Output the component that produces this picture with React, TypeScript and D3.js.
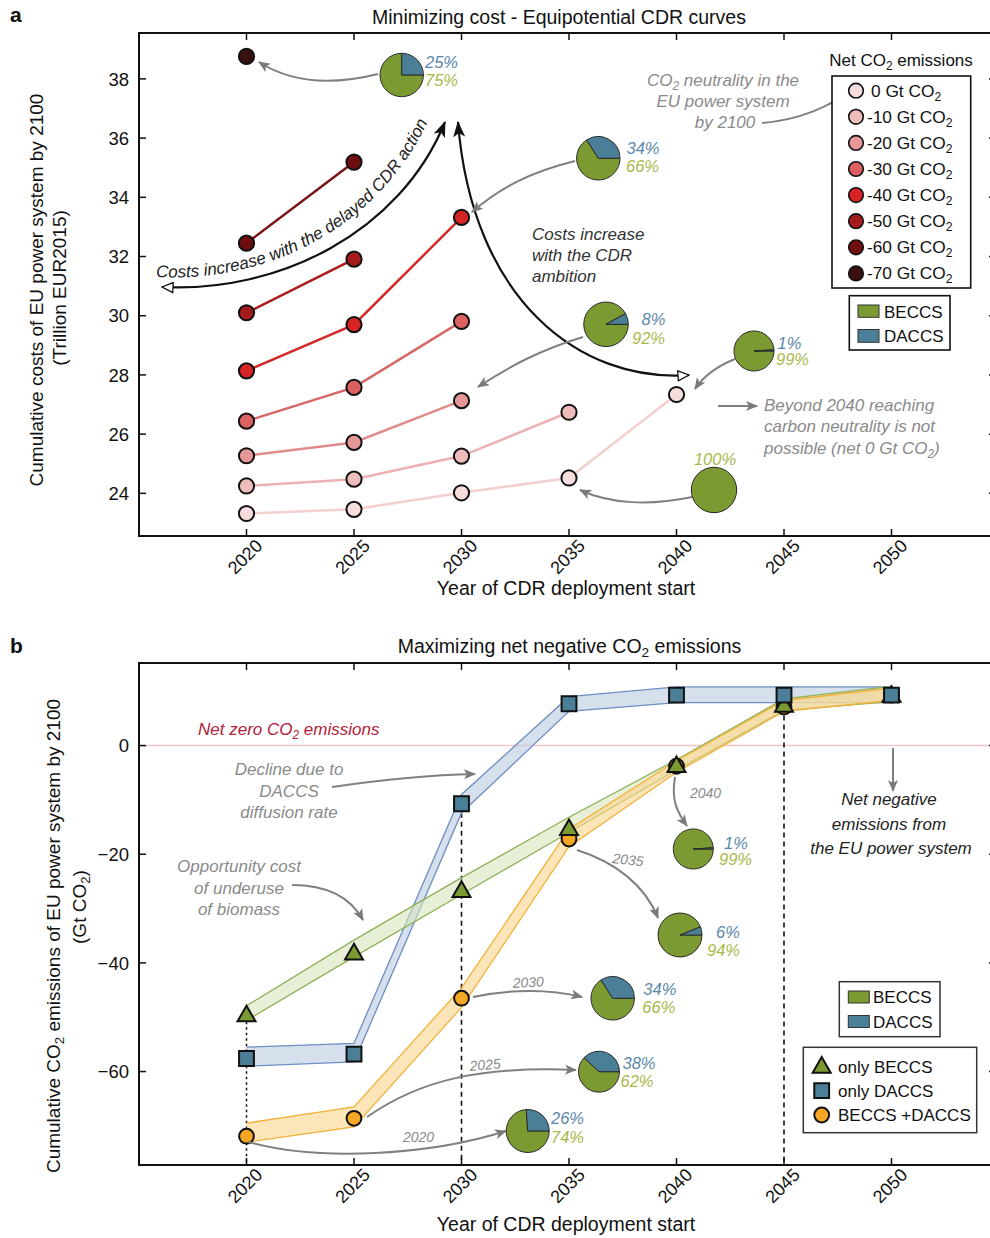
import React from "react";
import * as d3 from "d3";

// ---------------- DATA ----------------
const years = [2020, 2025, 2030, 2035, 2040, 2045, 2050];
const emissionLevels = [0, -10, -20, -30, -40, -50, -60, -70];

// Panel a: cumulative cost (trillion EUR2015) per CDR start year
const cost0Gt = [23.32, 23.46, 24.02, 24.52, 27.34];
const cost10Gt = [24.25, 24.48, 25.26, 26.74];
const cost20Gt = [25.27, 25.72, 27.13];
const cost30Gt = [26.44, 27.58, 29.81];
const cost40Gt = [28.14, 29.7, 33.32];
const cost50Gt = [30.1, 31.91];
const cost60Gt = [32.45, 35.19];
const cost70Gt = [38.76];
const costSeries = [cost0Gt, cost10Gt, cost20Gt, cost30Gt, cost40Gt, cost50Gt, cost60Gt, cost70Gt];

const costTicks = [24, 26, 28, 30, 32, 34, 36, 38];
const emissionTicks = [-60, -40, -20, 0];

// Panel b: cumulative CO2 emissions (Gt CO2)
const onlyBeccs = [-49.8, -38.4, -26.9, -15.5, -3.9, 7.2, 9.0];
const onlyBeccsHigh = [-47.9, -35.8, -24.3, -13.2, -2.6, 8.6, 10.9];
const onlyBeccsLow = [-50.6, -38.9, -27.4, -16.0, -4.5, 6.5, 8.1];
const onlyDaccs = [-57.6, -56.8, -10.7, 7.7, 9.3, 9.3, 9.3];
const onlyDaccsHigh = [-55.5, -54.8, -9.0, 9.0, 10.8, 10.8, 10.8];
const onlyDaccsLow = [-59.0, -58.2, -12.4, 6.3, 7.9, 7.9, 7.9];
const beccsDaccs = [-71.9, -68.6, -46.5, -17.2, -3.8, 7.1, 9.3];
const beccsDaccsHigh = [-69.5, -66.5, -44.6, -15.4, -2.8, 8.3, 10.6];
const beccsDaccsLow = [-73.0, -70.2, -48.2, -18.6, -4.9, 6.3, 8.3];

// Pie charts: DACCS share (%) - BECCS is the rest
const pieDaccsShareA = [25, 34, 8, 1, 0];
const pieDaccsShareB = [26, 38, 34, 6, 1];
const pieYearsB = [2020, 2025, 2030, 2035, 2040];

// ---------------- STYLE ----------------
const FONT = "'Liberation Sans', Arial, Helvetica, sans-serif";
const pointColors = ["#f6dcdc", "#efbcbc", "#e69898", "#dc6262", "#d62424", "#a51a1a", "#6f0e0e", "#3a0f0f"];
const lineColors = ["#f4cfcf", "#ecb2b2", "#e08c8c", "#d66868", "#d22a2a", "#ad1c1c", "#7a1212", "#3a0f0f"];
const GREEN = "#7b9b32";
const BLUE = "#4b7f98";
const ORANGE = "#f5a623";
const GRAY = "#808080";
const TXT_GRAY = "#8a8a8a";
const PCT_BLUE = "#5b88aa";
const PCT_GREEN = "#a9b84c";
const ANN = 17; // annotation font size
const LAB = 19.5; // titles / axis labels

const xA = d3.scaleLinear().domain([2015, 2055]).range([139, 999]);
const yA = d3.scaleLinear().domain([22.56, 39.55]).range([536, 33]);
const xB = d3.scaleLinear().domain([2015, 2055]).range([139, 999]);
const yB = d3.scaleLinear().domain([-77.2, 15.2]).range([1165, 663]);

const pieGen = d3
  .pie<number>()
  .sort(null)
  .startAngle(Math.PI / 2)
  .endAngle(Math.PI / 2 + 2 * Math.PI);

function Pie({ cx, cy, r, daccs }: { cx: number; cy: number; r: number; daccs: number }) {
  const arcs = pieGen([100 - daccs, daccs]);
  const arc = d3.arc<d3.PieArcDatum<number>>().innerRadius(0).outerRadius(r);
  return (
    <g transform={`translate(${cx},${cy})`}>
      {arcs.map((a, i) =>
        a.value > 0 ? (
          <path key={i} d={arc(a) || ""} fill={i === 0 ? GREEN : BLUE} stroke="#2a2a2a" strokeWidth={1} />
        ) : null
      )}
    </g>
  );
}

function CO2({ rest = "" }: { rest?: string }) {
  return (
    <>
      <tspan>CO</tspan>
      <tspan dy={4} fontSize="0.7em">
        2
      </tspan>
      <tspan dy={-4}>{rest}</tspan>
    </>
  );
}

function Axes({ x, y, top, bottom, ticks, fmt }: any) {
  const left = 139;
  return (
    <g>
      <line x1={left} x2={990} y1={top} y2={top} stroke="#111" strokeWidth={2} />
      <line x1={left} x2={990} y1={bottom} y2={bottom} stroke="#111" strokeWidth={2} />
      <line x1={left} x2={left} y1={top - 1} y2={bottom + 1} stroke="#111" strokeWidth={2} />
      {years.map((yr) => (
        <g key={yr}>
          <line x1={x(yr)} x2={x(yr)} y1={top} y2={top + 7} stroke="#111" strokeWidth={1.5} />
          <line x1={x(yr)} x2={x(yr)} y1={bottom} y2={bottom - 7} stroke="#111" strokeWidth={1.5} />
          <text
            transform={`translate(${x(yr) + 17},${bottom + 11}) rotate(-45)`}
            textAnchor="end"
            fontSize={18}
            fill="#111"
          >
            {yr}
          </text>
        </g>
      ))}
      {ticks.map((t: number) => (
        <g key={t}>
          <line x1={left} x2={left + 7} y1={y(t)} y2={y(t)} stroke="#111" strokeWidth={1.5} />
          <line x1={989} x2={996} y1={y(t)} y2={y(t)} stroke="#111" strokeWidth={1.5} />
          <text x={129} y={y(t)} dy="0.36em" textAnchor="end" fontSize={18.5} fill="#111">
            {fmt(t)}
          </text>
        </g>
      ))}
    </g>
  );
}

export default function App() {
  const lineA = d3
    .line<number>()
    .x((_, i) => xA(years[i]))
    .y((d) => yA(d));

  const band = (hi: number[], lo: number[]) =>
    d3
      .area<number>()
      .x((_, i) => xB(years[i]))
      .y0((_, i) => yB(lo[i]))
      .y1((_, i) => yB(hi[i]))(hi) || "";
  const lineB = d3
    .line<number>()
    .x((_, i) => xB(years[i]))
    .y((d) => yB(d));

  const tri = d3.symbol().type(d3.symbolTriangle).size(140)() || "";
  const sq = d3.symbol().type(d3.symbolSquare).size(220)() || "";

  const bands = [
    { hi: onlyDaccsHigh, lo: onlyDaccsLow, fill: "#b9cbe0", stroke: "#6d8fc2" },
    { hi: onlyBeccsHigh, lo: onlyBeccsLow, fill: "#d8e4bd", stroke: "#8db158" },
    { hi: beccsDaccsHigh, lo: beccsDaccsLow, fill: "#fcd48c", stroke: "#f2b13a" },
  ];

  // positions of pies (layout)
  const piesA = [
    { cx: 401.7, cy: 75, r: 21.7, lx: 425, ly1: 68, ly2: 86, l2x: 425 },
    { cx: 598.3, cy: 158.3, r: 21.7, lx: 626.5, ly1: 153.5, ly2: 171.5, l2x: 626 },
    { cx: 606, cy: 324.3, r: 22.3, lx: 641.5, ly1: 325, ly2: 343.5, l2x: 632 },
    { cx: 754, cy: 351, r: 20, lx: 777.5, ly1: 348.5, ly2: 365, l2x: 776 },
  ];
  const piesB = [
    { cx: 527.7, cy: 1131, r: 21.5, lx: 551, ly1: 1124, ly2: 1142.5, l2x: 551 },
    { cx: 599, cy: 1071.7, r: 20.5, lx: 622.5, ly1: 1068.5, ly2: 1087, l2x: 620.5 },
    { cx: 612.7, cy: 998.3, r: 21.7, lx: 643.3, ly1: 995, ly2: 1013, l2x: 642.3 },
    { cx: 680, cy: 935, r: 22, lx: 716, ly1: 937.5, ly2: 956, l2x: 707 },
    { cx: 693.3, cy: 849, r: 20, lx: 724, ly1: 848.5, ly2: 865, l2x: 719 },
  ];
  const yearLabelsB = [
    { x: 403, y: 1142, rot: 0 },
    { x: 470, y: 1071, rot: -5 },
    { x: 513, y: 988, rot: -3 },
    { x: 612, y: 863, rot: 6 },
    { x: 690, y: 798, rot: 0 },
  ];
  const arrowsB = [
    "M248,1142 C320,1162 430,1155 506,1131",
    "M367,1117 C420,1080 480,1066 576,1070",
    "M473,997 C510,989 550,989 582,997",
    "M577,850 C615,862 645,885 658,918",
    "M675,777 C671,800 677,812 687,826",
  ];

  const legendRowsA = emissionLevels.map((_, i) => 90.7 + i * 26.1);

  return (
    <svg
      width={990}
      height={1238}
      viewBox="0 0 990 1238"
      style={{ position: "absolute", left: 0, top: 0, background: "#fff" }}
      fontFamily={FONT}
    >
      <defs>
        <marker id="grayHead" viewBox="0 0 12 10" refX="11" refY="5" markerWidth="12" markerHeight="10" markerUnits="userSpaceOnUse" orient="auto">
          <path d="M0,0 L12,5 L0,10 L3,5 z" fill="#7a7a7a" />
        </marker>
        <marker id="blackHead" viewBox="0 0 16 12" refX="15" refY="6" markerWidth="16" markerHeight="12" markerUnits="userSpaceOnUse" orient="auto">
          <path d="M0,0 L16,6 L0,12 L4,6 z" fill="#111" />
        </marker>
        <marker id="openTail" viewBox="0 0 13 12" refX="12" refY="6" markerWidth="13" markerHeight="12" markerUnits="userSpaceOnUse" orient="auto-start-reverse">
          <path d="M1,1 L12,6 L1,11 z" fill="#fff" stroke="#111" strokeWidth={1.3} />
        </marker>
        <path id="delayPath" d="M156,277 C268,283 380,228 430,117" fill="none" />
      </defs>
      <rect x={0} y={0} width={990} height={1238} fill="#fff" />

      {/* ================= PANEL A ================= */}
      <text x={10} y={22} fontSize={21} fontWeight="bold" fill="#111">a</text>
      <text x={559} y={24} fontSize={LAB} textAnchor="middle" fill="#111">
        Minimizing cost - Equipotential CDR curves
      </text>
      <Axes x={xA} y={yA} top={33} bottom={536} ticks={costTicks} fmt={(t: number) => String(t)} />
      <text transform="translate(43,290) rotate(-90)" textAnchor="middle" fontSize={19} fill="#111">
        Cumulative costs of EU power system by 2100
      </text>
      <text transform="translate(66,288) rotate(-90)" textAnchor="middle" fontSize={19} fill="#111">
        (Trillion EUR2015)
      </text>
      <text x={566} y={595} textAnchor="middle" fontSize={LAB} fill="#111">
        Year of CDR deployment start
      </text>

      {/* series lines */}
      {costSeries.map((s, i) =>
        s.length > 1 ? (
          <path key={i} d={lineA(s) || ""} fill="none" stroke={lineColors[i]} strokeWidth={2.5} />
        ) : null
      )}
      {costSeries.map((s, i) =>
        s.map((v, j) => (
          <circle key={`${i}-${j}`} cx={xA(years[j])} cy={yA(v)} r={7.6} fill={pointColors[i]} stroke="#111" strokeWidth={2} />
        ))
      )}

      {/* black curved arrows */}
      <path d="M162,287 C280,293 400,232 445,122" fill="none" stroke="#111" strokeWidth={2.2} markerEnd="url(#blackHead)" markerStart="url(#openTail)" />
      <text fontSize={ANN} fontStyle="italic" fill="#222">
        <textPath href="#delayPath" startOffset="0">
          Costs increase with the delayed CDR action
        </textPath>
      </text>
      <path d="M689,375 C580,383 472,300 458,122" fill="none" stroke="#111" strokeWidth={2.2} markerEnd="url(#blackHead)" markerStart="url(#openTail)" />
      <text fontSize={ANN} fontStyle="italic" fill="#333">
        <tspan x={532} y={239.5}>Costs increase</tspan>
        <tspan x={532} y={260.7}>with the CDR</tspan>
        <tspan x={532} y={281.7}>ambition</tspan>
      </text>

      {/* gray arrows */}
      <g fill="none" stroke={GRAY} strokeWidth={2}>
        <path d="M378,74 C330,86 290,82 259,62" markerEnd="url(#grayHead)" />
        <path d="M575,161 C530,172 500,188 472,212" markerEnd="url(#grayHead)" />
        <path d="M583,337 C540,350 510,366 478,387" markerEnd="url(#grayHead)" />
        <path d="M735,359 C715,367 703,377 695,389" markerEnd="url(#grayHead)" />
        <path d="M692,497 C650,506 610,504 580,490" markerEnd="url(#grayHead)" />
        <path d="M762,123 C800,120 830,106 848,92" markerEnd="url(#grayHead)" />
        <path d="M718,406 L757,406" markerEnd="url(#grayHead)" />
      </g>

      {/* pies a */}
      {piesA.map((p, i) => (
        <g key={i}>
          <Pie cx={p.cx} cy={p.cy} r={p.r} daccs={pieDaccsShareA[i]} />
          <text x={p.lx} y={p.ly1} fontSize={16.5} fontStyle="italic" fill={PCT_BLUE}>{pieDaccsShareA[i]}%</text>
          <text x={p.l2x} y={p.ly2} fontSize={16.5} fontStyle="italic" fill={PCT_GREEN}>{100 - pieDaccsShareA[i]}%</text>
        </g>
      ))}
      <Pie cx={714} cy={490} r={22.7} daccs={pieDaccsShareA[4]} />
      <text x={715} y={464.5} textAnchor="middle" fontSize={16.5} fontStyle="italic" fill={PCT_GREEN}>
        {100 - pieDaccsShareA[4]}%
      </text>

      {/* text annotations a */}
      <text fontSize={ANN} fontStyle="italic" fill={TXT_GRAY} textAnchor="middle">
        <tspan x={723} y={86}>
          <CO2 rest=" neutrality in the" />
        </tspan>
        <tspan x={723} y={107}>EU power system</tspan>
        <tspan x={725} y={128}>by 2100</tspan>
      </text>
      <text fontSize={ANN} fontStyle="italic" fill={TXT_GRAY}>
        <tspan x={764} y={411}>Beyond 2040 reaching</tspan>
        <tspan x={764} y={432}>carbon neutrality is not</tspan>
        <tspan x={764} y={453.5}>
          possible (net 0 Gt <CO2 rest=")" />
        </tspan>
      </text>

      {/* legend a */}
      <text x={901} y={66} textAnchor="middle" fontSize={ANN} fill="#111">
        Net <CO2 rest=" emissions" />
      </text>
      <rect x={832} y={76} width={138.7} height={212} fill="#fff" stroke="#111" strokeWidth={1.6} />
      {emissionLevels.map((lv, i) => (
        <g key={lv}>
          <circle cx={856} cy={legendRowsA[i]} r={7.3} fill={pointColors[i]} stroke="#111" strokeWidth={1.6} />
          <text x={lv === 0 ? 871 : 867} y={legendRowsA[i] + 6} fontSize={17.3} fill="#111">
            {lv} Gt <CO2 />
          </text>
        </g>
      ))}
      <rect x={849.3} y={295.7} width={100.7} height={54.3} fill="#fff" stroke="#111" strokeWidth={1.6} />
      <rect x={858} y={305} width={21} height={12.3} fill={GREEN} stroke="#333" strokeWidth={1} />
      <rect x={858} y={329.5} width={21} height={12.8} fill={BLUE} stroke="#333" strokeWidth={1} />
      <text x={884} y={317.5} fontSize={17} fill="#111">BECCS</text>
      <text x={884} y={342.3} fontSize={17} fill="#111">DACCS</text>

      {/* ================= PANEL B ================= */}
      <text x={10} y={653} fontSize={21} fontWeight="bold" fill="#111">b</text>
      <text x={569.5} y={653.3} fontSize={LAB} textAnchor="middle" fill="#111">
        Maximizing net negative <CO2 rest=" emissions" />
      </text>
      <line x1={139} x2={990} y1={yB(0)} y2={yB(0)} stroke="#f3c4c8" strokeWidth={1.5} />
      <Axes x={xB} y={yB} top={663} bottom={1165} ticks={emissionTicks} fmt={(t: number) => (t < 0 ? "\u2212" + Math.abs(t) : String(t))} />
      <text transform="translate(60,936) rotate(-90)" textAnchor="middle" fontSize={19} fill="#111">
        Cumulative <CO2 rest=" emissions of EU power system by 2100" />
      </text>
      <text transform="translate(86,907) rotate(-90)" textAnchor="middle" fontSize={19} fill="#111">
        (Gt <CO2 rest=")" />
      </text>
      <text x={566} y={1231} textAnchor="middle" fontSize={LAB} fill="#111">
        Year of CDR deployment start
      </text>

      {/* dashed guides */}
      <line x1={xB(years[0])} x2={xB(years[0])} y1={yB(onlyBeccs[0])} y2={1165} stroke="#111" strokeWidth={1.5} strokeDasharray="2.5,3" />
      <line x1={xB(years[2])} x2={xB(years[2])} y1={yB(onlyDaccs[2])} y2={1165} stroke="#111" strokeWidth={1.6} strokeDasharray="5,4" />
      <line x1={xB(years[5])} x2={xB(years[5])} y1={yB(onlyBeccs[5])} y2={1165} stroke="#111" strokeWidth={1.6} strokeDasharray="5,4" />

      {/* bands */}
      {bands.map((b, i) => (
        <g key={i}>
          <path d={band(b.hi, b.lo)} fill={b.fill} fillOpacity={0.6} />
          <path d={lineB(b.hi) || ""} fill="none" stroke={b.stroke} strokeWidth={1.3} />
          <path d={lineB(b.lo) || ""} fill="none" stroke={b.stroke} strokeWidth={1.3} />
        </g>
      ))}

      {/* markers */}
      {beccsDaccs.map((v, i) => (
        <circle key={`c${i}`} cx={xB(years[i])} cy={yB(v)} r={7.4} fill={ORANGE} stroke="#111" strokeWidth={2} />
      ))}
      {onlyBeccs.map((v, i) => (
        <path key={`t${i}`} d={tri} transform={`translate(${xB(years[i])},${yB(v)})`} fill={GREEN} stroke="#111" strokeWidth={2} />
      ))}
      {onlyDaccs.map((v, i) => (
        <path key={`s${i}`} d={sq} transform={`translate(${xB(years[i])},${yB(v)})`} fill={BLUE} stroke="#111" strokeWidth={2} />
      ))}

      {/* annotations b */}
      <text x={198} y={735} fontSize={ANN} fontStyle="italic" fill="#b3213a">
        Net zero <CO2 rest=" emissions" />
      </text>
      <text fontSize={ANN} fontStyle="italic" fill={TXT_GRAY} textAnchor="middle">
        <tspan x={289} y={775}>Decline due to</tspan>
        <tspan x={289} y={797}>DACCS</tspan>
        <tspan x={289} y={818}>diffusion rate</tspan>
      </text>
      <text fontSize={ANN} fontStyle="italic" fill={TXT_GRAY} textAnchor="middle">
        <tspan x={239} y={872}>Opportunity cost</tspan>
        <tspan x={239} y={893.5}>of underuse</tspan>
        <tspan x={239} y={914.5}>of biomass</tspan>
      </text>
      <text fontSize={ANN} fontStyle="italic" fill="#222" textAnchor="middle">
        <tspan x={889} y={805}>Net negative</tspan>
        <tspan x={889} y={829.5}>emissions from</tspan>
        <tspan x={891} y={853.5}>the EU power system</tspan>
      </text>
      <g fill="none" stroke={GRAY} strokeWidth={2}>
        <path d="M332,787 C380,780 430,775 475,774" markerEnd="url(#grayHead)" />
        <path d="M292,885 C330,885 352,900 363,920" markerEnd="url(#grayHead)" />
        <path d="M893,748 L893,791" markerEnd="url(#grayHead)" />
        {arrowsB.map((d, i) => (
          <path key={i} d={d} markerEnd="url(#grayHead)" />
        ))}
      </g>
      {yearLabelsB.map((l, i) => (
        <text key={i} transform={`translate(${l.x},${l.y}) rotate(${l.rot})`} fontSize={14} fontStyle="italic" fill={TXT_GRAY}>
          {pieYearsB[i]}
        </text>
      ))}
      {piesB.map((p, i) => (
        <g key={i}>
          <Pie cx={p.cx} cy={p.cy} r={p.r} daccs={pieDaccsShareB[i]} />
          <text x={p.lx} y={p.ly1} fontSize={16.5} fontStyle="italic" fill={PCT_BLUE}>{pieDaccsShareB[i]}%</text>
          <text x={p.l2x} y={p.ly2} fontSize={16.5} fontStyle="italic" fill={PCT_GREEN}>{100 - pieDaccsShareB[i]}%</text>
        </g>
      ))}

      {/* legends b */}
      <rect x={839.3} y={981.7} width={100.7} height={55} fill="#fff" stroke="#333" strokeWidth={1.5} />
      <rect x={848.3} y={991} width={21} height={12} fill={GREEN} stroke="#333" strokeWidth={1} />
      <rect x={848.3} y={1015.5} width={21} height={12} fill={BLUE} stroke="#333" strokeWidth={1} />
      <text x={873} y={1003} fontSize={17} fill="#111">BECCS</text>
      <text x={873} y={1027.7} fontSize={17} fill="#111">DACCS</text>

      <rect x={803.3} y={1047.3} width={173.4} height={85.4} fill="#fff" stroke="#333" strokeWidth={1.5} />
      <path d={tri} transform="translate(821.7,1067.5)" fill={GREEN} stroke="#111" strokeWidth={2} />
      <path d={sq} transform="translate(821.7,1090.7)" fill={BLUE} stroke="#111" strokeWidth={2} />
      <circle cx={821.7} cy={1115} r={7.4} fill={ORANGE} stroke="#111" strokeWidth={2} />
      <text x={838} y={1072.5} fontSize={17} fill="#111">only BECCS</text>
      <text x={838} y={1096.5} fontSize={17} fill="#111">only DACCS</text>
      <text x={838} y={1121} fontSize={17} fill="#111">BECCS +DACCS</text>
    </svg>
  );
}
